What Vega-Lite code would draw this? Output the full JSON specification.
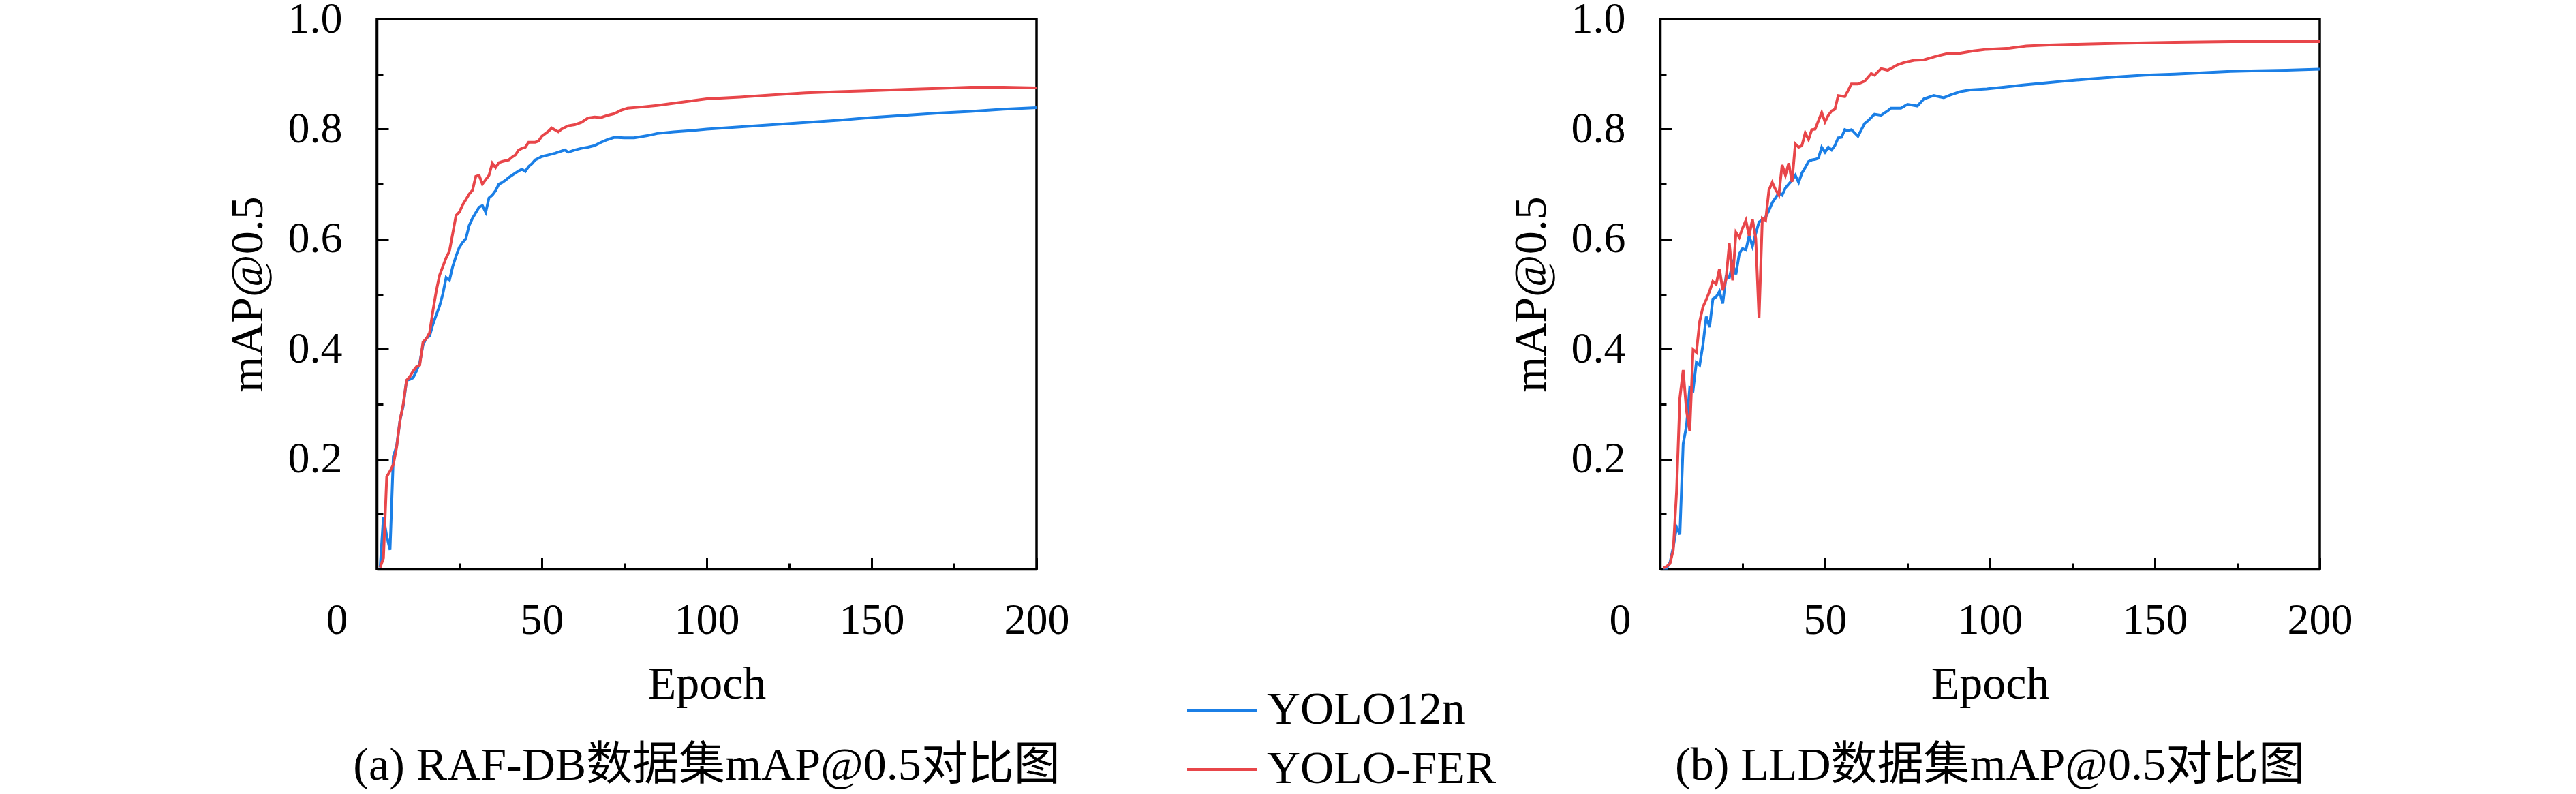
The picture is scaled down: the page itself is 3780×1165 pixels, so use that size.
{
  "$schema": "https://vega.github.io/schema/vega-lite/v6.json",
  "background": "white",
  "padding": {"left": 328, "top": -6, "right": 0, "bottom": 0},
  "datasets": {
    "raf": [
      {"m":"YOLO12n","e":1,"v":0.003},{"m":"YOLO12n","e":2,"v":0.095},{"m":"YOLO12n","e":3,"v":0.06},{"m":"YOLO12n","e":4,"v":0.035},{"m":"YOLO12n","e":5,"v":0.205},{"m":"YOLO12n","e":6,"v":0.224},{"m":"YOLO12n","e":7,"v":0.27},{"m":"YOLO12n","e":8,"v":0.297},{"m":"YOLO12n","e":9,"v":0.343},{"m":"YOLO12n","e":10,"v":0.345},{"m":"YOLO12n","e":11,"v":0.348},{"m":"YOLO12n","e":12,"v":0.36},{"m":"YOLO12n","e":13,"v":0.375},{"m":"YOLO12n","e":14,"v":0.408},{"m":"YOLO12n","e":15,"v":0.42},{"m":"YOLO12n","e":16,"v":0.424},{"m":"YOLO12n","e":17,"v":0.445},{"m":"YOLO12n","e":18,"v":0.462},{"m":"YOLO12n","e":19,"v":0.478},{"m":"YOLO12n","e":20,"v":0.5},{"m":"YOLO12n","e":21,"v":0.53},{"m":"YOLO12n","e":22,"v":0.525},{"m":"YOLO12n","e":23,"v":0.55},{"m":"YOLO12n","e":24,"v":0.569},{"m":"YOLO12n","e":25,"v":0.585},{"m":"YOLO12n","e":26,"v":0.594},{"m":"YOLO12n","e":27,"v":0.601},{"m":"YOLO12n","e":28,"v":0.625},{"m":"YOLO12n","e":29,"v":0.638},{"m":"YOLO12n","e":30,"v":0.648},{"m":"YOLO12n","e":31,"v":0.658},{"m":"YOLO12n","e":32,"v":0.661},{"m":"YOLO12n","e":33,"v":0.649},{"m":"YOLO12n","e":34,"v":0.675},{"m":"YOLO12n","e":35,"v":0.68},{"m":"YOLO12n","e":36,"v":0.688},{"m":"YOLO12n","e":37,"v":0.7},{"m":"YOLO12n","e":38,"v":0.703},{"m":"YOLO12n","e":39,"v":0.707},{"m":"YOLO12n","e":40,"v":0.712},{"m":"YOLO12n","e":41,"v":0.716},{"m":"YOLO12n","e":42,"v":0.72},{"m":"YOLO12n","e":43,"v":0.724},{"m":"YOLO12n","e":44,"v":0.727},{"m":"YOLO12n","e":45,"v":0.723},{"m":"YOLO12n","e":46,"v":0.732},{"m":"YOLO12n","e":47,"v":0.737},{"m":"YOLO12n","e":48,"v":0.744},{"m":"YOLO12n","e":49,"v":0.747},{"m":"YOLO12n","e":50,"v":0.75},{"m":"YOLO12n","e":52,"v":0.753},{"m":"YOLO12n","e":54,"v":0.756},{"m":"YOLO12n","e":56,"v":0.76},{"m":"YOLO12n","e":57,"v":0.762},{"m":"YOLO12n","e":58,"v":0.758},{"m":"YOLO12n","e":60,"v":0.762},{"m":"YOLO12n","e":62,"v":0.765},{"m":"YOLO12n","e":64,"v":0.767},{"m":"YOLO12n","e":66,"v":0.77},{"m":"YOLO12n","e":68,"v":0.776},{"m":"YOLO12n","e":70,"v":0.781},{"m":"YOLO12n","e":72,"v":0.785},{"m":"YOLO12n","e":75,"v":0.784},{"m":"YOLO12n","e":78,"v":0.784},{"m":"YOLO12n","e":82,"v":0.788},{"m":"YOLO12n","e":85,"v":0.792},{"m":"YOLO12n","e":90,"v":0.795},{"m":"YOLO12n","e":95,"v":0.797},{"m":"YOLO12n","e":100,"v":0.8},{"m":"YOLO12n","e":110,"v":0.804},{"m":"YOLO12n","e":120,"v":0.808},{"m":"YOLO12n","e":130,"v":0.812},{"m":"YOLO12n","e":140,"v":0.816},{"m":"YOLO12n","e":150,"v":0.821},{"m":"YOLO12n","e":160,"v":0.825},{"m":"YOLO12n","e":170,"v":0.829},{"m":"YOLO12n","e":180,"v":0.832},{"m":"YOLO12n","e":190,"v":0.836},{"m":"YOLO12n","e":200,"v":0.839},
      {"m":"YOLO-FER","e":1,"v":0.003},{"m":"YOLO-FER","e":2,"v":0.02},{"m":"YOLO-FER","e":3,"v":0.168},{"m":"YOLO-FER","e":4,"v":0.178},{"m":"YOLO-FER","e":5,"v":0.19},{"m":"YOLO-FER","e":6,"v":0.222},{"m":"YOLO-FER","e":7,"v":0.27},{"m":"YOLO-FER","e":8,"v":0.3},{"m":"YOLO-FER","e":9,"v":0.343},{"m":"YOLO-FER","e":10,"v":0.35},{"m":"YOLO-FER","e":11,"v":0.36},{"m":"YOLO-FER","e":12,"v":0.368},{"m":"YOLO-FER","e":13,"v":0.371},{"m":"YOLO-FER","e":14,"v":0.413},{"m":"YOLO-FER","e":15,"v":0.419},{"m":"YOLO-FER","e":16,"v":0.43},{"m":"YOLO-FER","e":17,"v":0.47},{"m":"YOLO-FER","e":18,"v":0.505},{"m":"YOLO-FER","e":19,"v":0.534},{"m":"YOLO-FER","e":20,"v":0.55},{"m":"YOLO-FER","e":21,"v":0.566},{"m":"YOLO-FER","e":22,"v":0.578},{"m":"YOLO-FER","e":23,"v":0.61},{"m":"YOLO-FER","e":24,"v":0.643},{"m":"YOLO-FER","e":25,"v":0.649},{"m":"YOLO-FER","e":26,"v":0.662},{"m":"YOLO-FER","e":27,"v":0.672},{"m":"YOLO-FER","e":28,"v":0.682},{"m":"YOLO-FER","e":29,"v":0.689},{"m":"YOLO-FER","e":30,"v":0.714},{"m":"YOLO-FER","e":31,"v":0.716},{"m":"YOLO-FER","e":32,"v":0.7},{"m":"YOLO-FER","e":33,"v":0.708},{"m":"YOLO-FER","e":34,"v":0.716},{"m":"YOLO-FER","e":35,"v":0.738},{"m":"YOLO-FER","e":36,"v":0.73},{"m":"YOLO-FER","e":37,"v":0.739},{"m":"YOLO-FER","e":38,"v":0.741},{"m":"YOLO-FER","e":40,"v":0.744},{"m":"YOLO-FER","e":41,"v":0.749},{"m":"YOLO-FER","e":42,"v":0.753},{"m":"YOLO-FER","e":43,"v":0.762},{"m":"YOLO-FER","e":44,"v":0.765},{"m":"YOLO-FER","e":45,"v":0.767},{"m":"YOLO-FER","e":46,"v":0.776},{"m":"YOLO-FER","e":48,"v":0.776},{"m":"YOLO-FER","e":49,"v":0.778},{"m":"YOLO-FER","e":50,"v":0.787},{"m":"YOLO-FER","e":52,"v":0.796},{"m":"YOLO-FER","e":53,"v":0.802},{"m":"YOLO-FER","e":55,"v":0.795},{"m":"YOLO-FER","e":56,"v":0.8},{"m":"YOLO-FER","e":58,"v":0.806},{"m":"YOLO-FER","e":60,"v":0.808},{"m":"YOLO-FER","e":62,"v":0.812},{"m":"YOLO-FER","e":64,"v":0.82},{"m":"YOLO-FER","e":66,"v":0.822},{"m":"YOLO-FER","e":68,"v":0.821},{"m":"YOLO-FER","e":70,"v":0.825},{"m":"YOLO-FER","e":72,"v":0.828},{"m":"YOLO-FER","e":74,"v":0.834},{"m":"YOLO-FER","e":76,"v":0.838},{"m":"YOLO-FER","e":80,"v":0.84},{"m":"YOLO-FER","e":85,"v":0.843},{"m":"YOLO-FER","e":90,"v":0.847},{"m":"YOLO-FER","e":95,"v":0.851},{"m":"YOLO-FER","e":100,"v":0.855},{"m":"YOLO-FER","e":110,"v":0.858},{"m":"YOLO-FER","e":120,"v":0.862},{"m":"YOLO-FER","e":130,"v":0.866},{"m":"YOLO-FER","e":140,"v":0.868},{"m":"YOLO-FER","e":150,"v":0.87},{"m":"YOLO-FER","e":160,"v":0.872},{"m":"YOLO-FER","e":170,"v":0.874},{"m":"YOLO-FER","e":180,"v":0.876},{"m":"YOLO-FER","e":190,"v":0.876},{"m":"YOLO-FER","e":200,"v":0.875}
    ],
    "lld": [
      {"m":"YOLO12n","e":1,"v":0.002},{"m":"YOLO12n","e":2,"v":0.002},{"m":"YOLO12n","e":3,"v":0.012},{"m":"YOLO12n","e":4,"v":0.04},{"m":"YOLO12n","e":5,"v":0.076},{"m":"YOLO12n","e":6,"v":0.063},{"m":"YOLO12n","e":7,"v":0.228},{"m":"YOLO12n","e":8,"v":0.26},{"m":"YOLO12n","e":9,"v":0.33},{"m":"YOLO12n","e":10,"v":0.325},{"m":"YOLO12n","e":11,"v":0.376},{"m":"YOLO12n","e":12,"v":0.371},{"m":"YOLO12n","e":13,"v":0.408},{"m":"YOLO12n","e":14,"v":0.459},{"m":"YOLO12n","e":15,"v":0.44},{"m":"YOLO12n","e":16,"v":0.491},{"m":"YOLO12n","e":17,"v":0.495},{"m":"YOLO12n","e":18,"v":0.505},{"m":"YOLO12n","e":19,"v":0.483},{"m":"YOLO12n","e":20,"v":0.532},{"m":"YOLO12n","e":21,"v":0.53},{"m":"YOLO12n","e":22,"v":0.555},{"m":"YOLO12n","e":23,"v":0.536},{"m":"YOLO12n","e":24,"v":0.573},{"m":"YOLO12n","e":25,"v":0.583},{"m":"YOLO12n","e":26,"v":0.58},{"m":"YOLO12n","e":27,"v":0.606},{"m":"YOLO12n","e":28,"v":0.587},{"m":"YOLO12n","e":29,"v":0.61},{"m":"YOLO12n","e":30,"v":0.631},{"m":"YOLO12n","e":31,"v":0.635},{"m":"YOLO12n","e":32,"v":0.64},{"m":"YOLO12n","e":33,"v":0.652},{"m":"YOLO12n","e":34,"v":0.666},{"m":"YOLO12n","e":35,"v":0.675},{"m":"YOLO12n","e":36,"v":0.684},{"m":"YOLO12n","e":37,"v":0.68},{"m":"YOLO12n","e":38,"v":0.693},{"m":"YOLO12n","e":39,"v":0.7},{"m":"YOLO12n","e":40,"v":0.707},{"m":"YOLO12n","e":41,"v":0.716},{"m":"YOLO12n","e":42,"v":0.703},{"m":"YOLO12n","e":43,"v":0.72},{"m":"YOLO12n","e":44,"v":0.73},{"m":"YOLO12n","e":45,"v":0.741},{"m":"YOLO12n","e":46,"v":0.744},{"m":"YOLO12n","e":47,"v":0.745},{"m":"YOLO12n","e":48,"v":0.747},{"m":"YOLO12n","e":49,"v":0.767},{"m":"YOLO12n","e":50,"v":0.758},{"m":"YOLO12n","e":51,"v":0.767},{"m":"YOLO12n","e":52,"v":0.762},{"m":"YOLO12n","e":53,"v":0.77},{"m":"YOLO12n","e":54,"v":0.784},{"m":"YOLO12n","e":55,"v":0.785},{"m":"YOLO12n","e":56,"v":0.799},{"m":"YOLO12n","e":57,"v":0.797},{"m":"YOLO12n","e":58,"v":0.799},{"m":"YOLO12n","e":60,"v":0.787},{"m":"YOLO12n","e":62,"v":0.81},{"m":"YOLO12n","e":63,"v":0.815},{"m":"YOLO12n","e":65,"v":0.827},{"m":"YOLO12n","e":67,"v":0.825},{"m":"YOLO12n","e":69,"v":0.833},{"m":"YOLO12n","e":70,"v":0.838},{"m":"YOLO12n","e":73,"v":0.838},{"m":"YOLO12n","e":75,"v":0.845},{"m":"YOLO12n","e":78,"v":0.842},{"m":"YOLO12n","e":80,"v":0.855},{"m":"YOLO12n","e":83,"v":0.861},{"m":"YOLO12n","e":86,"v":0.857},{"m":"YOLO12n","e":88,"v":0.862},{"m":"YOLO12n","e":91,"v":0.868},{"m":"YOLO12n","e":94,"v":0.871},{"m":"YOLO12n","e":99,"v":0.873},{"m":"YOLO12n","e":104,"v":0.876},{"m":"YOLO12n","e":110,"v":0.88},{"m":"YOLO12n","e":115,"v":0.883},{"m":"YOLO12n","e":122,"v":0.887},{"m":"YOLO12n","e":130,"v":0.891},{"m":"YOLO12n","e":139,"v":0.895},{"m":"YOLO12n","e":147,"v":0.898},{"m":"YOLO12n","e":156,"v":0.9},{"m":"YOLO12n","e":173,"v":0.905},{"m":"YOLO12n","e":190,"v":0.907},{"m":"YOLO12n","e":200,"v":0.909},
      {"m":"YOLO-FER","e":1,"v":0.002},{"m":"YOLO-FER","e":2,"v":0.005},{"m":"YOLO-FER","e":3,"v":0.01},{"m":"YOLO-FER","e":4,"v":0.035},{"m":"YOLO-FER","e":5,"v":0.141},{"m":"YOLO-FER","e":6,"v":0.311},{"m":"YOLO-FER","e":7,"v":0.362},{"m":"YOLO-FER","e":8,"v":0.288},{"m":"YOLO-FER","e":9,"v":0.251},{"m":"YOLO-FER","e":10,"v":0.399},{"m":"YOLO-FER","e":11,"v":0.394},{"m":"YOLO-FER","e":12,"v":0.45},{"m":"YOLO-FER","e":13,"v":0.477},{"m":"YOLO-FER","e":14,"v":0.49},{"m":"YOLO-FER","e":15,"v":0.505},{"m":"YOLO-FER","e":16,"v":0.523},{"m":"YOLO-FER","e":17,"v":0.518},{"m":"YOLO-FER","e":18,"v":0.546},{"m":"YOLO-FER","e":19,"v":0.507},{"m":"YOLO-FER","e":20,"v":0.527},{"m":"YOLO-FER","e":21,"v":0.592},{"m":"YOLO-FER","e":22,"v":0.525},{"m":"YOLO-FER","e":23,"v":0.612},{"m":"YOLO-FER","e":24,"v":0.603},{"m":"YOLO-FER","e":25,"v":0.62},{"m":"YOLO-FER","e":26,"v":0.634},{"m":"YOLO-FER","e":27,"v":0.606},{"m":"YOLO-FER","e":28,"v":0.636},{"m":"YOLO-FER","e":29,"v":0.601},{"m":"YOLO-FER","e":30,"v":0.456},{"m":"YOLO-FER","e":31,"v":0.638},{"m":"YOLO-FER","e":32,"v":0.634},{"m":"YOLO-FER","e":33,"v":0.689},{"m":"YOLO-FER","e":34,"v":0.703},{"m":"YOLO-FER","e":35,"v":0.69},{"m":"YOLO-FER","e":36,"v":0.68},{"m":"YOLO-FER","e":37,"v":0.735},{"m":"YOLO-FER","e":38,"v":0.716},{"m":"YOLO-FER","e":39,"v":0.738},{"m":"YOLO-FER","e":40,"v":0.704},{"m":"YOLO-FER","e":41,"v":0.773},{"m":"YOLO-FER","e":42,"v":0.767},{"m":"YOLO-FER","e":43,"v":0.77},{"m":"YOLO-FER","e":44,"v":0.793},{"m":"YOLO-FER","e":45,"v":0.781},{"m":"YOLO-FER","e":46,"v":0.799},{"m":"YOLO-FER","e":47,"v":0.8},{"m":"YOLO-FER","e":48,"v":0.815},{"m":"YOLO-FER","e":49,"v":0.83},{"m":"YOLO-FER","e":50,"v":0.813},{"m":"YOLO-FER","e":51,"v":0.825},{"m":"YOLO-FER","e":52,"v":0.833},{"m":"YOLO-FER","e":53,"v":0.836},{"m":"YOLO-FER","e":54,"v":0.861},{"m":"YOLO-FER","e":55,"v":0.86},{"m":"YOLO-FER","e":56,"v":0.859},{"m":"YOLO-FER","e":57,"v":0.87},{"m":"YOLO-FER","e":58,"v":0.882},{"m":"YOLO-FER","e":60,"v":0.882},{"m":"YOLO-FER","e":62,"v":0.887},{"m":"YOLO-FER","e":64,"v":0.901},{"m":"YOLO-FER","e":65,"v":0.898},{"m":"YOLO-FER","e":67,"v":0.91},{"m":"YOLO-FER","e":69,"v":0.907},{"m":"YOLO-FER","e":72,"v":0.917},{"m":"YOLO-FER","e":74,"v":0.921},{"m":"YOLO-FER","e":77,"v":0.925},{"m":"YOLO-FER","e":80,"v":0.926},{"m":"YOLO-FER","e":84,"v":0.933},{"m":"YOLO-FER","e":87,"v":0.937},{"m":"YOLO-FER","e":91,"v":0.938},{"m":"YOLO-FER","e":95,"v":0.942},{"m":"YOLO-FER","e":99,"v":0.945},{"m":"YOLO-FER","e":106,"v":0.947},{"m":"YOLO-FER","e":111,"v":0.951},{"m":"YOLO-FER","e":118,"v":0.953},{"m":"YOLO-FER","e":125,"v":0.954},{"m":"YOLO-FER","e":139,"v":0.956},{"m":"YOLO-FER","e":156,"v":0.958},{"m":"YOLO-FER","e":173,"v":0.959},{"m":"YOLO-FER","e":200,"v":0.959}
    ]
  },
  "spacing": 640,
  "hconcat": [
    {
      "width": 968,
      "height": 807,
      "title": {"text": "(a) RAF-DB数据集mAP@0.5对比图", "orient": "bottom", "anchor": "middle", "frame": "group", "offset": 52},
      "data": {"name": "raf"},
      "encoding": {
        "x": {"field": "e", "type": "quantitative", "scale": {"domain": [0, 200], "nice": false},
          "axis": {"title": "Epoch", "values": [0, 25, 50, 75, 100, 125, 150, 175, 200],
            "labelExpr": "datum.value % 50 === 0 ? format(datum.value, 'd') : ''",
            "tickSize": {"condition": {"test": "datum.value % 50 === 0", "value": -17}, "value": -9},
            "labelOffset": {"condition": {"test": "datum.value === 0", "value": -59}, "value": 0},
            "labelPadding": 60, "titlePadding": 20}},
        "y": {"field": "v", "type": "quantitative", "scale": {"domain": [0, 1], "nice": false},
          "axis": {"title": "mAP@0.5", "values": [0, 0.1, 0.2, 0.3, 0.4, 0.5, 0.6, 0.7, 0.8, 0.9, 1.0],
            "labelExpr": "datum.value > 0.05 && round(datum.value * 10) % 2 === 0 ? format(datum.value, '.1f') : ''",
            "tickSize": {"condition": {"test": "round(datum.value * 10) % 2 === 0", "value": -17}, "value": -9},
            "labelPadding": 68, "titlePadding": 24}},
        "color": {"field": "m", "type": "nominal", "scale": {"domain": ["YOLO12n", "YOLO-FER"], "range": ["#1b7fe6", "#e8464a"]}, "legend": {"title": null}}
      },
      "layer": [
        {"transform": [{"filter": "datum.m === 'YOLO12n'"}], "mark": {"type": "line", "strokeWidth": 4}},
        {"transform": [{"filter": "datum.m === 'YOLO-FER'"}], "mark": {"type": "line", "strokeWidth": 4}}
      ]
    },
    {
      "width": 968,
      "height": 807,
      "title": {"text": "(b) LLD数据集mAP@0.5对比图", "orient": "bottom", "anchor": "middle", "frame": "group", "offset": 52},
      "data": {"name": "lld"},
      "encoding": {
        "x": {"field": "e", "type": "quantitative", "scale": {"domain": [0, 200], "nice": false},
          "axis": {"title": "Epoch", "values": [0, 25, 50, 75, 100, 125, 150, 175, 200],
            "labelExpr": "datum.value % 50 === 0 ? format(datum.value, 'd') : ''",
            "tickSize": {"condition": {"test": "datum.value % 50 === 0", "value": -17}, "value": -9},
            "labelOffset": {"condition": {"test": "datum.value === 0", "value": -59}, "value": 0},
            "labelPadding": 60, "titlePadding": 20}},
        "y": {"field": "v", "type": "quantitative", "scale": {"domain": [0, 1], "nice": false},
          "axis": {"title": "mAP@0.5", "values": [0, 0.1, 0.2, 0.3, 0.4, 0.5, 0.6, 0.7, 0.8, 0.9, 1.0],
            "labelExpr": "datum.value > 0.05 && round(datum.value * 10) % 2 === 0 ? format(datum.value, '.1f') : ''",
            "tickSize": {"condition": {"test": "round(datum.value * 10) % 2 === 0", "value": -17}, "value": -9},
            "labelPadding": 68, "titlePadding": 24}},
        "color": {"field": "m", "type": "nominal", "scale": {"domain": ["YOLO12n", "YOLO-FER"], "range": ["#1b7fe6", "#e8464a"]}, "legend": {"title": null}}
      },
      "layer": [
        {"transform": [{"filter": "datum.m === 'YOLO12n'"}], "mark": {"type": "line", "strokeWidth": 4}},
        {"transform": [{"filter": "datum.m === 'YOLO-FER'"}], "mark": {"type": "line", "strokeWidth": 4}}
      ]
    }
  ],
  "resolve": {"scale": {"color": "shared"}, "legend": {"color": "shared"}},
  "config": {
    "font": "Liberation Serif, Noto Sans CJK SC",
    "view": {"stroke": "black", "strokeWidth": 3.5},
    "axis": {
      "grid": false,
      "domainColor": "black", "domainWidth": 3.5,
      "tickColor": "black", "tickWidth": 3,
      "labelFont": "Liberation Serif", "labelFontSize": 64, "labelColor": "black",
      "labelOverlap": false, "labelFlush": false,
      "titleFont": "Liberation Serif", "titleFontSize": 68, "titleFontWeight": "normal", "titleColor": "black"
    },
    "legend": {
      "orient": "none", "legendX": 1187, "legendY": 961,
      "symbolType": "stroke", "symbolSize": 10404, "symbolStrokeWidth": 4,
      "labelFont": "Liberation Serif", "labelFontSize": 68, "labelColor": "black",
      "labelOffset": 13, "labelLimit": 0, "rowPadding": -23
    },
    "title": {"font": "Liberation Serif, Noto Sans CJK SC", "fontSize": 68, "fontWeight": "normal", "color": "black"}
  }
}
